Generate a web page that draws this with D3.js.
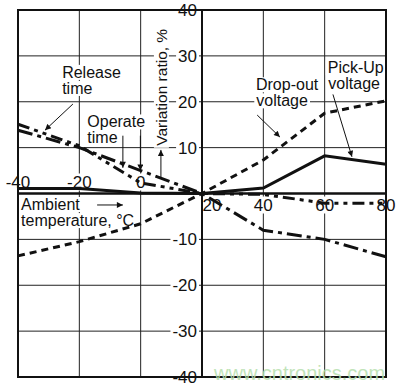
<!DOCTYPE html>
<html>
<head>
<meta charset="utf-8">
<script src="https://cdn.jsdelivr.net/npm/d3@7"></script>
<style>
  html, body { margin: 0; padding: 0; background: #fff; }
  svg text { font-family: "Liberation Sans", Arial, Helvetica, sans-serif; }
</style>
</head>
<body>
<div id="chart"></div>
<script>
// values (x: ambient temperature in deg C, y: variation ratio in %)
var temps = [-40, -20, 0, 20, 40, 60, 80];
var pickUp = [1.1, 1.1, 0.1, 0, 1.2, 8.2, 6.4];
var dropOut = [-13.6, -10.5, -6.6, 0, 7.3, 17.5, 20.2];
var releaseTime = [13.8, 10, 5, 0, -8, -10, -13.8];
var operateTime = [15.1, 10.4, 2.3, 0, -0.2, -2.1, -2.1];
var xTicks = [-40, -20, 0, 20, 40, 60, 80];
var yTicks = [-40, -30, -20, -10, 10, 20, 30, 40];

var W = 400, H = 389;
var x = d3.scaleLinear().domain([-40, 80]).range([18, 386]);
var y = d3.scaleLinear().domain([-40, 40]).range([377, 10]);

var svg = d3.select("#chart").append("svg")
    .attr("width", W).attr("height", H);

svg.append("rect").attr("width", W).attr("height", H).attr("fill", "#fff");

var defs = svg.append("defs");
defs.append("marker")
    .attr("id", "head")
    .attr("viewBox", "0 0 10 10")
    .attr("refX", 10).attr("refY", 5)
    .attr("markerUnits", "userSpaceOnUse")
    .attr("markerWidth", 8).attr("markerHeight", 6)
    .attr("orient", "auto")
    .append("path").attr("d", "M0,0L10,5L0,10z").attr("fill", "#111");

// grid
var grid = svg.append("g").attr("stroke", "#222").attr("stroke-width", 1);
xTicks.forEach(function (t) {
    grid.append("line")
        .attr("x1", x(t)).attr("x2", x(t))
        .attr("y1", y(40)).attr("y2", y(-40));
});
yTicks.forEach(function (t) {
    grid.append("line")
        .attr("x1", x(-40)).attr("x2", x(80))
        .attr("y1", y(t)).attr("y2", y(t));
});

// white boxes under the texts cut the grid like in the original
var backs = svg.append("g");
var texts = svg.append("g");
function label(str, px, py, size, anchor, transform) {
    var t = texts.append("text")
        .attr("x", px).attr("y", py)
        .attr("font-size", size)
        .attr("fill", "#111")
        .attr("text-anchor", anchor || "start")
        .text(str);
    var b = t.node().getBBox();
    var r = backs.append("rect")
        .attr("x", b.x - 2).attr("y", b.y + 1)
        .attr("width", b.width + 4).attr("height", b.height - 2)
        .attr("fill", "#fff");
    if (transform) {
        t.attr("transform", transform);
        r.attr("transform", transform);
    }
}

// y tick labels, left of the y axis at 20 deg C
yTicks.forEach(function (t) {
    label(t, x(20) - 5, y(t) + 6, 17, "end");
});
// x tick labels: above the axis on the left, below on the right
xTicks.forEach(function (t) {
    if (t <= 0) label(t, x(t), y(0) - 6, 17, "middle");
    else if (t === 20) label(t, x(t) + 10, y(0) + 17, 17, "middle");
    else label(t, x(t), y(0) + 17, 17, "middle");
});

// annotations (positions in chart units)
label("Release", x(-25.6), y(25.2), 16);
label("time", x(-25.6), y(21.7), 16);
label("Operate", x(-17.4), y(14.4), 16);
label("time", x(-17.4), y(10.9), 16);
label("Drop-out", x(37.6), y(22.5), 16);
label("voltage", x(37.7), y(19), 16);
label("Pick-Up", x(61.0), y(26.2), 16);
label("voltage", x(61.2), y(22.7), 16);
label("Ambient", x(-39), y(-3.6), 16);
label("temperature, \u00b0C", x(-39), y(-7.1), 16);
label("Variation ratio, %", 0, 0, 15.5, "middle",
    "translate(" + (x(6.6) + 6) + "," + ((y(37) + y(9.3)) / 2) + ") rotate(-90)");

// frame and axes
svg.append("rect")
    .attr("x", x(-40)).attr("y", y(40))
    .attr("width", x(80) - x(-40)).attr("height", y(-40) - y(40))
    .attr("fill", "none").attr("stroke", "#111").attr("stroke-width", 2);
svg.append("line")
    .attr("x1", x(-40)).attr("x2", x(80)).attr("y1", y(0)).attr("y2", y(0))
    .attr("stroke", "#111").attr("stroke-width", 2.5);
svg.append("line")
    .attr("x1", x(20)).attr("x2", x(20)).attr("y1", y(40)).attr("y2", y(-40))
    .attr("stroke", "#111").attr("stroke-width", 2);

// curves
var series = [
    { v: dropOut, dash: "7,5" },
    { v: releaseTime, dash: "15,5,4,5" },
    { v: operateTime, dash: "12,5,4,5,4,5" },
    { v: pickUp, dash: null }
];
var line = d3.line()
    .x(function (d, i) { return x(temps[i]); })
    .y(function (d) { return y(d); });
series.forEach(function (s) {
    svg.append("path")
        .attr("d", line(s.v))
        .attr("fill", "none")
        .attr("stroke", "#111")
        .attr("stroke-width", 3)
        .attr("stroke-dasharray", s.dash);
});

// arrows
var arrows = [
    [-22.1, 19.5, -31.2, 13.8],
    [-5.8, 12.6, -5.8, 5.6],
    [-0.1, 12.6, -0.1, 5.0],
    [6.6, 3.3, 6.6, 9.5],
    [-14.2, -2.5, -5.8, -2.5],
    [38.0, 17.1, 45.4, 12.3],
    [62.7, 21.6, 68.9, 8.0]
];
arrows.forEach(function (a) {
    svg.append("line")
        .attr("x1", x(a[0])).attr("y1", y(a[1]))
        .attr("x2", x(a[2])).attr("y2", y(a[3]))
        .attr("stroke", "#111").attr("stroke-width", 1)
        .attr("marker-end", "url(#head)");
});

// watermark
svg.append("text")
    .attr("x", 214).attr("y", 380)
    .attr("font-size", 20)
    .style("fill", "#b7dfae")
    .attr("opacity", 0.85)
    .text("www.cntronics.com");
</script>
</body>
</html>
